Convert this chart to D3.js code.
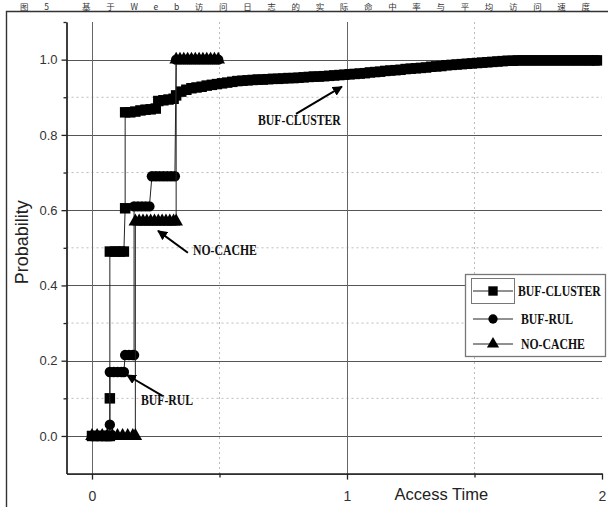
<!DOCTYPE html>
<html>
<head>
<meta charset="utf-8">
<script src="https://cdn.jsdelivr.net/npm/d3@7"></script>
<style>
  body { margin: 0; background: #fff; }
  svg { display: block; }
</style>
</head>
<body>
<script>
// ---- data ----
const seriesNames = ["BUF-CLUSTER", "BUF-RUL", "NO-CACHE"];
const xTickValues = [0, 1, 2];
const xMinorTicks = [0.5, 1.5];
const yTickValues = [0, 0.2, 0.4, 0.6, 0.8, 1.0];
const yMinorTicks = [0.1, 0.3, 0.5, 0.7, 0.9, 1.1];

// cumulative probability vs. access time, [time, probability]
const clusterPts = [
  [0, 0], [0.02, 0], [0.04, 0], [0.06, 0], [0.07, 0], [0.07, 0.10], [0.07, 0.49], [0.09, 0.49],
  [0.11, 0.49], [0.125, 0.49], [0.13, 0.605], [0.13, 0.86], [0.15, 0.86], [0.17, 0.862],
  [0.19, 0.865], [0.21, 0.867], [0.23, 0.868], [0.25, 0.87], [0.26, 0.89], [0.28, 0.892],
  [0.30, 0.894], [0.32, 0.896], [0.33, 0.905], [0.35, 0.915], [0.37, 0.92], [0.39, 0.924],
  [0.41, 0.926], [0.43, 0.928], [0.45, 0.931], [0.47, 0.933], [0.49, 0.935], [0.51, 0.937],
  [0.53, 0.939], [0.55, 0.941], [0.57, 0.943], [0.59, 0.944], [0.61, 0.945], [0.63, 0.946],
  [0.65, 0.947], [0.67, 0.947], [0.69, 0.948], [0.71, 0.949], [0.73, 0.949], [0.75, 0.95],
  [0.77, 0.951], [0.79, 0.951], [0.81, 0.952], [0.83, 0.953], [0.85, 0.954], [0.87, 0.955],
  [0.89, 0.955], [0.91, 0.956], [0.93, 0.957], [0.95, 0.958], [0.97, 0.959], [0.99, 0.96],
  [1.01, 0.961], [1.03, 0.962], [1.05, 0.963], [1.07, 0.964], [1.09, 0.966], [1.11, 0.967],
  [1.13, 0.968], [1.15, 0.97], [1.17, 0.971], [1.19, 0.972], [1.21, 0.973], [1.23, 0.975],
  [1.25, 0.976], [1.27, 0.977], [1.29, 0.978], [1.31, 0.979], [1.33, 0.981], [1.35, 0.982],
  [1.37, 0.983], [1.39, 0.985], [1.41, 0.986], [1.43, 0.987], [1.45, 0.988], [1.47, 0.989],
  [1.49, 0.99], [1.51, 0.991], [1.53, 0.992], [1.55, 0.993], [1.57, 0.994], [1.59, 0.995],
  [1.61, 0.996], [1.63, 0.997], [1.65, 0.997], [1.67, 0.998], [1.69, 0.998], [1.71, 0.998],
  [1.73, 0.998], [1.75, 0.998], [1.77, 0.998], [1.79, 0.998], [1.81, 0.998], [1.83, 0.998],
  [1.85, 0.998], [1.87, 0.998], [1.89, 0.998], [1.91, 0.998], [1.93, 0.998], [1.95, 0.998],
  [1.97, 0.998], [1.98, 0.998]
];
const rulPts = [
  [0, 0], [0.02, 0], [0.04, 0], [0.06, 0], [0.07, 0], [0.07, 0.03], [0.07, 0.17], [0.085, 0.17],
  [0.10, 0.17], [0.115, 0.17], [0.125, 0.17], [0.13, 0.215], [0.145, 0.215], [0.16, 0.215],
  [0.165, 0.215], [0.165, 0.61], [0.18, 0.61], [0.195, 0.61], [0.21, 0.61], [0.225, 0.61],
  [0.235, 0.69], [0.25, 0.69], [0.265, 0.69], [0.28, 0.69], [0.295, 0.69], [0.31, 0.69],
  [0.325, 0.69], [0.33, 1.0], [0.345, 1.0], [0.36, 1.0], [0.375, 1.0], [0.39, 1.0], [0.405, 1.0],
  [0.42, 1.0], [0.435, 1.0], [0.45, 1.0], [0.465, 1.0], [0.48, 1.0], [0.495, 1.0]
];
const noCachePts = [
  [0, 0], [0.02, 0], [0.04, 0], [0.06, 0], [0.08, 0], [0.10, 0], [0.12, 0], [0.14, 0], [0.16, 0],
  [0.17, 0], [0.17, 0.57], [0.185, 0.57], [0.2, 0.57], [0.215, 0.57], [0.23, 0.57], [0.245, 0.57],
  [0.26, 0.57], [0.275, 0.57], [0.29, 0.57], [0.305, 0.57], [0.32, 0.57], [0.33, 0.57],
  [0.33, 1.0], [0.345, 1.0], [0.36, 1.0], [0.375, 1.0], [0.39, 1.0], [0.405, 1.0], [0.42, 1.0],
  [0.435, 1.0], [0.45, 1.0], [0.465, 1.0], [0.48, 1.0], [0.495, 1.0]
];

// callouts: label anchor, arrow tail and arrow tip in data units
const callouts = [
  { text: "BUF-CLUSTER", at: [0.651, 0.826], from: [0.80, 0.856], to: [0.98, 0.928] },
  { text: "NO-CACHE",    at: [0.396, 0.481], from: [0.376, 0.487], to: [0.259, 0.545] },
  { text: "BUF-RUL",     at: [0.192, 0.082], from: [0.278, 0.106], to: [0.137, 0.162] }
];

const W = 608, H = 507;
const svg = d3.select("body").append("svg").attr("width", W).attr("height", H);

const x = d3.scaleLinear().domain([-0.1, 2.0]).range([66.5, 602]);
const y = d3.scaleLinear().domain([-0.1, 1.1]).range([473.6, 22]);

const labelFont = "'Liberation Serif', 'DejaVu Serif', serif";
const axisFont = "'Liberation Sans', Arial, sans-serif";
const labelSquash = 0.84;   // condensed look for the bold serif labels

// caption above the frame
svg.append("text")
  .attr("x", 20).attr("y", 10)
  .attr("textLength", 570).attr("lengthAdjust", "spacing")
  .attr("font-family", "'Noto Sans CJK SC', sans-serif")
  .attr("font-size", 8.5).attr("fill", "#333")
  .text("图5  基于Web访问日志的实际命中率与平均访问速度");

// outer frame
svg.append("path")
  .attr("d", `M6.5,${H + 2}V11.5H${W + 2}`)
  .attr("fill", "none").attr("stroke", "#333").attr("stroke-width", 1.4);

const [x0, x1] = x.range();
const [yb, yt] = y.range();

// grid
const grid = svg.append("g");
grid.selectAll(".hmin").data([0.1, 0.3, 0.5, 0.7, 0.9]).join("line")
  .attr("x1", x0).attr("x2", x1).attr("y1", d => y(d)).attr("y2", d => y(d))
  .attr("stroke", "#bbb").attr("stroke-dasharray", "2,3");
grid.selectAll(".vmin").data(xMinorTicks).join("line")
  .attr("x1", d => x(d)).attr("x2", d => x(d)).attr("y1", yt).attr("y2", yb)
  .attr("stroke", "#bbb").attr("stroke-dasharray", "2,3");
grid.selectAll(".hmaj").data(yTickValues).join("line")
  .attr("x1", x0).attr("x2", x1).attr("y1", d => Math.round(y(d)) + 0.5).attr("y2", d => Math.round(y(d)) + 0.5)
  .attr("stroke", "#555");
grid.selectAll(".vmaj").data([0, 1]).join("line")
  .attr("x1", d => Math.round(x(d)) + 0.5).attr("x2", d => Math.round(x(d)) + 0.5).attr("y1", yt).attr("y2", yb)
  .attr("stroke", "#666");

// axes
svg.append("g").attr("transform", `translate(${x0},0)`)
  .call(d3.axisLeft(y).tickValues(yTickValues).tickFormat(d3.format(".1f")).tickSize(5).tickSizeOuter(0).tickPadding(4));
svg.append("g").attr("transform", `translate(${x0},0)`)
  .call(d3.axisLeft(y).tickValues(yMinorTicks).tickFormat("").tickSize(3).tickSizeOuter(0));
svg.append("g").attr("class", "xaxis").attr("transform", `translate(0,${yb})`)
  .call(d3.axisBottom(x).tickValues(xTickValues).tickFormat(d3.format("d")).tickSize(6).tickSizeOuter(0).tickPadding(11));
svg.append("g").attr("transform", `translate(0,${yb})`)
  .call(d3.axisBottom(x).tickValues(xMinorTicks).tickFormat("").tickSize(4).tickSizeOuter(0));
svg.selectAll(".domain, .tick line").attr("stroke", "#222").attr("stroke-width", 1.3);
svg.selectAll(".tick text").attr("font-family", axisFont).attr("font-size", 13).attr("fill", "#333");
svg.selectAll(".xaxis .tick text").attr("font-size", 14);

// axis titles
svg.append("text")
  .attr("transform", `translate(28,${y(0.515)}) rotate(-90)`)
  .attr("text-anchor", "middle")
  .attr("font-family", axisFont).attr("font-size", 18).attr("fill", "#222")
  .text("Probability");
svg.append("text")
  .attr("x", x(1.37)).attr("y", 500)
  .attr("text-anchor", "middle")
  .attr("font-family", axisFont).attr("font-size", 16.5).attr("fill", "#222")
  .text("Access Time");

// series
const symbolTypes = [d3.symbolSquare, d3.symbolCircle, d3.symbolTriangle];
const symbolSizes = [110, 85, 80];
const allSeries = [clusterPts, rulPts, noCachePts];
const line = d3.line().x(d => x(d[0])).y(d => y(d[1]));

allSeries.forEach((pts, i) => {
  const g = svg.append("g");
  g.append("path").attr("d", line(pts))
    .attr("fill", "none").attr("stroke", "#222").attr("stroke-width", 1);
  g.selectAll("path.m").data(pts).join("path").attr("class", "m")
    .attr("transform", d => `translate(${x(d[0])},${y(d[1])})`)
    .attr("d", d3.symbol().type(symbolTypes[i]).size(symbolSizes[i]))
    .attr("fill", "#000");
});

// callouts
svg.append("defs").append("marker")
  .attr("id", "arrowhead").attr("viewBox", "0 0 10 10")
  .attr("refX", 9).attr("refY", 5)
  .attr("markerWidth", 5).attr("markerHeight", 5)
  .attr("markerUnits", "strokeWidth")
  .attr("orient", "auto")
  .append("path").attr("d", "M0,0L10,5L0,10Z").attr("fill", "#000");

function boldLabel(parent, px, py, txt) {
  parent.append("text")
    .attr("transform", `translate(${px},${py}) scale(${labelSquash},1)`)
    .attr("font-family", labelFont).attr("font-weight", "bold")
    .attr("font-size", 14).attr("fill", "#111")
    .text(txt);
}

callouts.forEach(c => {
  svg.append("line")
    .attr("x1", x(c.from[0])).attr("y1", y(c.from[1]))
    .attr("x2", x(c.to[0])).attr("y2", y(c.to[1]))
    .attr("stroke", "#000").attr("stroke-width", 2)
    .attr("marker-end", "url(#arrowhead)");
  boldLabel(svg, x(c.at[0]), y(c.at[1]), c.text);
});

// legend
const lg = svg.append("g");
lg.append("rect").attr("x", 465.5).attr("y", 274.5).attr("width", 140).attr("height", 82)
  .attr("fill", "#fff").attr("stroke", "#777").attr("stroke-width", 1.3);
lg.append("rect").attr("x", 471.5).attr("y", 278.5).attr("width", 43).attr("height", 25)
  .attr("fill", "none").attr("stroke", "#777");
const legendRows = [291, 319, 344];
seriesNames.forEach((name, i) => {
  const cy = legendRows[i];
  lg.append("line").attr("x1", 473).attr("x2", 513).attr("y1", cy).attr("y2", cy)
    .attr("stroke", "#222");
  lg.append("path").attr("transform", `translate(493,${cy})`)
    .attr("d", d3.symbol().type(symbolTypes[i]).size(symbolSizes[i] * 0.8))
    .attr("fill", "#000");
  boldLabel(lg, i === 0 ? 518 : 521, cy + 5, name);
});
</script>
</body>
</html>
